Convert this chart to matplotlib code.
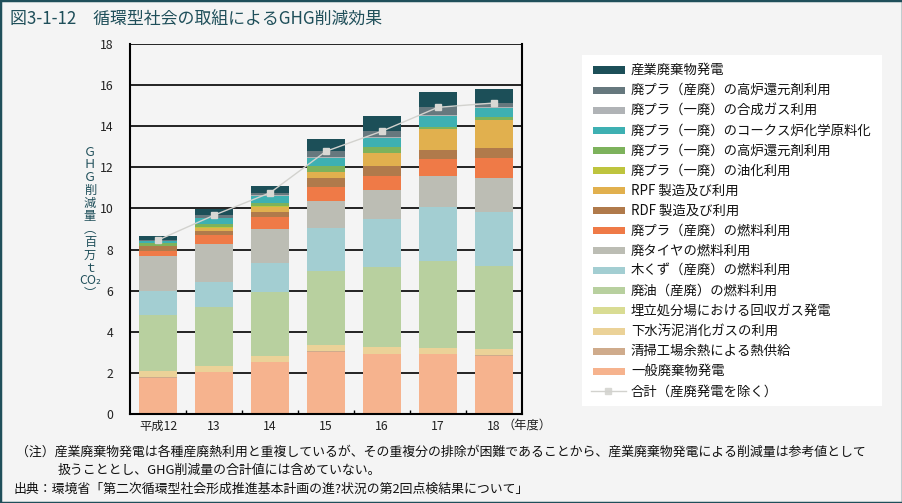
import matplotlib
matplotlib.use("Agg")
import matplotlib.pyplot as plt
from matplotlib.patches import Rectangle
from matplotlib.lines import Line2D
import numpy as np

plt.rcParams["font.family"] = ["Noto Sans CJK JP", "DejaVu Sans"]

W, H = 903, 503

years = ["平成12", "13", "14", "15", "16", "17", "18"]

# stacked from the bottom up
ippan_hatsuden = [1.77, 2.04, 2.53, 3.03, 2.92, 2.92, 2.82]
seiso_yonetsu = [0.05, 0.01, 0.01, 0.03, 0.01, 0.01, 0.04]
gesui_osei = [0.27, 0.28, 0.28, 0.30, 0.33, 0.30, 0.30]
umetate_gas = [0.00, 0.00, 0.00, 0.00, 0.00, 0.00, 0.00]
haiyu = [2.71, 2.87, 3.13, 3.60, 3.89, 4.21, 4.06]
kikuzu = [1.20, 1.24, 1.40, 2.10, 2.33, 2.65, 2.62]
haitaiya = [1.68, 1.83, 1.65, 1.30, 1.42, 1.49, 1.66]
pura_sanpai_nenryo = [0.25, 0.45, 0.58, 0.70, 0.68, 0.82, 0.97]
rdf = [0.24, 0.18, 0.24, 0.44, 0.48, 0.46, 0.49]
rpf = [0.00, 0.16, 0.25, 0.27, 0.63, 1.00, 1.36]
pura_ippai_yuka = [0.00, 0.06, 0.05, 0.00, 0.00, 0.00, 0.00]
pura_ippai_koro = [0.15, 0.12, 0.13, 0.31, 0.29, 0.10, 0.13]
pura_ippai_coke = [0.08, 0.28, 0.35, 0.37, 0.44, 0.55, 0.45]
pura_ippai_gas = [0.02, 0.03, 0.03, 0.05, 0.04, 0.06, 0.02]
pura_sanpai_koro = [0.04, 0.12, 0.13, 0.28, 0.30, 0.35, 0.21]
sangyo_hatsuden = [0.20, 0.30, 0.33, 0.59, 0.73, 0.74, 0.67]

series = [
    ("一般廃棄物発電", ippan_hatsuden, "#f6b38e"),
    ("清掃工場余熱による熱供給", seiso_yonetsu, "#cfab8c"),
    ("下水汚泥消化ガスの利用", gesui_osei, "#ebd298"),
    ("埋立処分場における回収ガス発電", umetate_gas, "#d9dc93"),
    ("廃油（産廃）の燃料利用", haiyu, "#b8d09f"),
    ("木くず（産廃）の燃料利用", kikuzu, "#a3ced2"),
    ("廃タイヤの燃料利用", haitaiya, "#bcbdb4"),
    ("廃プラ（産廃）の燃料利用", pura_sanpai_nenryo, "#ef7a47"),
    ("RDF 製造及び利用", rdf, "#b07a4b"),
    ("RPF 製造及び利用", rpf, "#e1b04e"),
    ("廃プラ（一廃）の油化利用", pura_ippai_yuka, "#bec43e"),
    ("廃プラ（一廃）の高炉還元剤利用", pura_ippai_koro, "#7db25c"),
    ("廃プラ（一廃）のコークス炉化学原料化", pura_ippai_coke, "#3eb0b2"),
    ("廃プラ（一廃）の合成ガス利用", pura_ippai_gas, "#b0b3b6"),
    ("廃プラ（産廃）の高炉還元剤利用", pura_sanpai_koro, "#66787e"),
    ("産業廃棄物発電", sangyo_hatsuden, "#1c4f58"),
]
total_label = "合計（産廃発電を除く）"

title = "図3-1-12　循環型社会の取組によるGHG削減効果"
note1 = "（注）産業廃棄物発電は各種産廃熱利用と重複しているが、その重複分の排除が困難であることから、産業廃棄物発電による削減量は参考値として"
note2 = "扱うこととし、GHG削減量の合計値には含めていない。"
source = "出典：環境省「第二次循環型社会形成推進基本計画の進?状況の第2回点検結果について」"
ylabel_chars = ["Ｇ", "Ｈ", "Ｇ", "削", "減", "量", "︵", "百", "万", "ｔ", "CO₂", "︶"]

teal = "#1f4f5a"


def fx(x):
    return x / W


def fy(y):
    return 1 - y / H


fig = plt.figure(figsize=(W / 100, H / 100), dpi=100, facecolor="#f4f4f4")
fig.add_artist(Rectangle((0, 0), 1, 1, transform=fig.transFigure, fill=False,
                         edgecolor=teal, linewidth=2.5))

ax = fig.add_axes([fx(130), fy(414), fx(522) - fx(130), fy(44) - fy(414)])
ax.set_facecolor("#f4f4f4")

x = np.arange(len(years))
bottom = np.zeros(len(years))
for name, vals, color in series:
    ax.bar(x, vals, 0.68, bottom=bottom, color=color, zorder=2)
    bottom += np.array(vals)

total = bottom - np.array(sangyo_hatsuden)
ax.plot(x, total, color="#d2d2ce", linewidth=1, marker="s", markersize=4.5,
        markerfacecolor="#d8d8d4", markeredgecolor="#d8d8d4", zorder=3)

ax.set_xlim(-0.5, 6.5)
ax.set_ylim(0, 18)
ax.set_yticks(np.arange(0, 19, 2))
ax.yaxis.grid(True, color="black", linewidth=1.2, zorder=0)
ax.set_axisbelow(True)
ax.tick_params(axis="y", length=0, pad=12, labelsize=8.8, labelcolor="#222222")
ax.set_xticks(x)
ax.set_xticklabels(years)
ax.set_xticks(np.arange(0.5, 6.5, 1), minor=True)
ax.tick_params(axis="x", which="major", length=0, pad=4, labelsize=8.8, labelcolor="#222222")
ax.tick_params(axis="x", which="minor", direction="in", length=3, width=1)
for side in ["left", "bottom", "right"]:
    ax.spines[side].set_linewidth(1.5)
ax.spines["top"].set_visible(False)

fig.text(fx(503), fy(425), "（年度）", fontsize=8.8, color="#222222", va="center", ha="left")

# vertical y label
for i, ch in enumerate(ylabel_chars):
    fig.text(fx(90), fy(152 + i * 12.9), ch, fontsize=8.8, color=teal,
             ha="center", va="center")

fig.text(fx(10), fy(20), title, fontsize=12.2, color=teal, va="center", ha="left")

# legend
fig.add_artist(Rectangle((fx(582), fy(406)), fx(882) - fx(582), fy(55) - fy(406),
                         transform=fig.transFigure, facecolor="white", edgecolor="none"))
for i, (name, vals, color) in enumerate(series[::-1]):
    yc = 70 + i * 20.08
    fig.add_artist(Rectangle((fx(593), fy(yc + 3.5)), fx(625) - fx(593), fy(yc - 3.5) - fy(yc + 3.5),
                             transform=fig.transFigure, facecolor=color, edgecolor="none"))
    fig.text(fx(631), fy(yc), name, fontsize=9.6, color="#111111", va="center", ha="left")
yc = 70 + len(series) * 20.08
fig.add_artist(Line2D([fx(591), fx(626)], [fy(yc), fy(yc)], transform=fig.transFigure,
                      color="#d2d2ce", linewidth=1, zorder=3))
fig.add_artist(Line2D([fx(608.5)], [fy(yc)], transform=fig.transFigure, linestyle="none",
                      marker="s", markersize=4.5, color="#d8d8d4"))
fig.text(fx(631), fy(yc), total_label, fontsize=9.6, color="#111111", va="center", ha="left")

fig.text(fx(16), fy(452), note1, fontsize=9.3, color="#111111", va="center", ha="left")
fig.text(fx(58), fy(470), note2, fontsize=9.3, color="#111111", va="center", ha="left")
fig.text(fx(14), fy(489), source, fontsize=9.3, color="#111111", va="center", ha="left")

fig.savefig("out.png", dpi=100, facecolor=fig.get_facecolor())
